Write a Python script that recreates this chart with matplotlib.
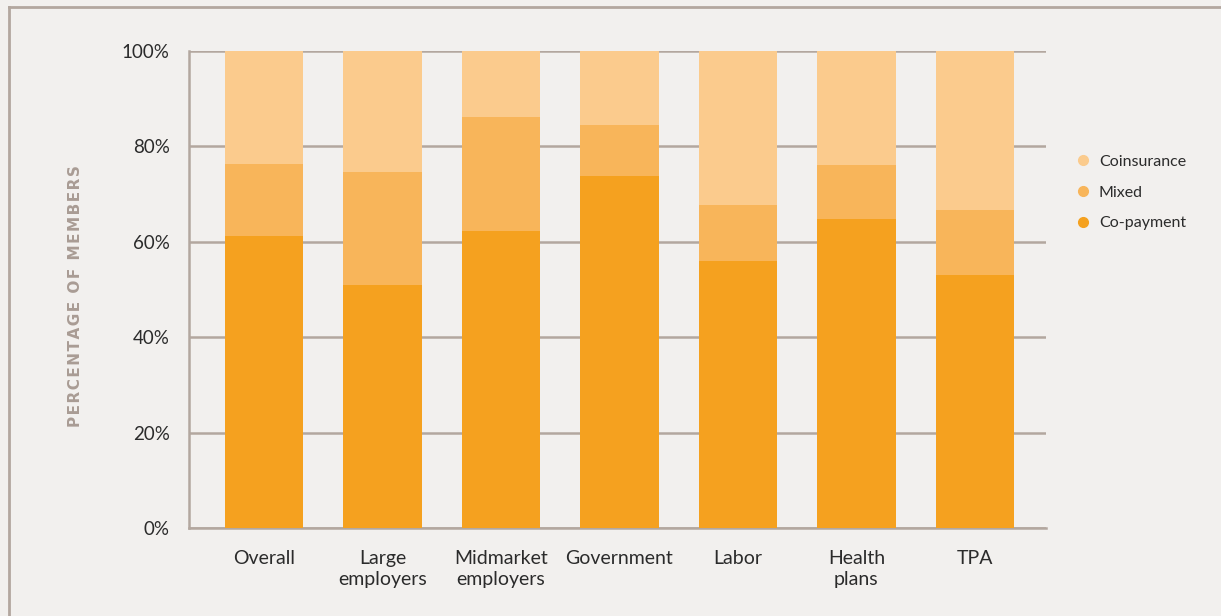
import numpy as np
import matplotlib.pyplot as plt
from matplotlib.lines import Line2D

categories = ["Overall", "Large\nemployers", "Midmarket\nemployers", "Government",
              "Labor", "Health\nplans", "TPA"]
copayment = [61.2, 50.9, 62.3, 73.8, 56.0, 64.8, 53.0]
mixed = [15.1, 23.7, 23.9, 10.7, 11.7, 11.3, 13.7]
coinsurance = [100 - a - b for a, b in zip(copayment, mixed)]

C_COPAY = "#F5A11F"
C_MIXED = "#F8B55A"
C_COINS = "#FBCB8D"
BG = "#F2F0EE"
LINE = "#B3A79F"

plt.rcParams['font.family'] = ['Lato', 'DejaVu Sans']

fig = plt.figure(figsize=(12.21, 6.16), dpi=100, facecolor=BG)
ax = fig.add_axes([189 / 1221, 1 - 528 / 616, (1046 - 189) / 1221, (528 - 51) / 616])
ax.set_facecolor(BG)

x = np.arange(len(categories))
w = 0.66
ax.bar(x, copayment, w, color=C_COPAY, zorder=3)
ax.bar(x, mixed, w, bottom=copayment, color=C_MIXED, zorder=3)
ax.bar(x, coinsurance, w, bottom=np.add(copayment, mixed), color=C_COINS, zorder=3)

ax.set_xlim(-0.633, 6.6)
ax.set_ylim(0, 100)
ax.set_yticks(np.arange(0, 101, 20))
ax.set_yticklabels([f"{v}%" for v in range(0, 101, 20)])
ax.yaxis.grid(True, color=LINE, linewidth=1.8, zorder=1)
ax.set_xticks(x)
ax.set_xticklabels(categories, linespacing=1.3)
ax.tick_params(axis='y', length=0, pad=14, labelsize=13.5, labelcolor="#2b2b2b")
ax.tick_params(axis='x', length=0, pad=16, labelsize=14, labelcolor="#2b2b2b")

for s in ("top", "right"):
    ax.spines[s].set_visible(False)
for s in ("left", "bottom"):
    ax.spines[s].set_color(LINE)
    ax.spines[s].set_linewidth(1.8)

# spaced-out capitals for the axis title
ylab = "\u200a".join("PERCENTAGE OF MEMBERS")
fig.text(76 / 1221, 1 - 296 / 616, ylab, rotation=90,
         ha='center', va='center', fontsize=11, fontweight='bold', color="#A99C94",
         family=['DejaVu Sans'])

# outer frame
fig.add_artist(Line2D([9 / 1221, 9 / 1221], [0, 1 - 7 / 616], color=LINE, linewidth=2))
fig.add_artist(Line2D([9 / 1221, 1], [1 - 7 / 616, 1 - 7 / 616], color=LINE, linewidth=2))

handles = [Line2D([], [], marker='o', linestyle='', markersize=7, color=c)
           for c in (C_COINS, C_MIXED, C_COPAY)]
fig.legend(handles, ["Coinsurance", "Mixed", "Co-payment"], loc='upper left',
           bbox_to_anchor=(1059 / 1221, 1 - 140 / 616), frameon=False,
           fontsize=11.5, labelspacing=1.05, handletextpad=0.4, handlelength=1.2,
           labelcolor="#2b2b2b")

fig.savefig("out.png", dpi=100, facecolor=BG)
